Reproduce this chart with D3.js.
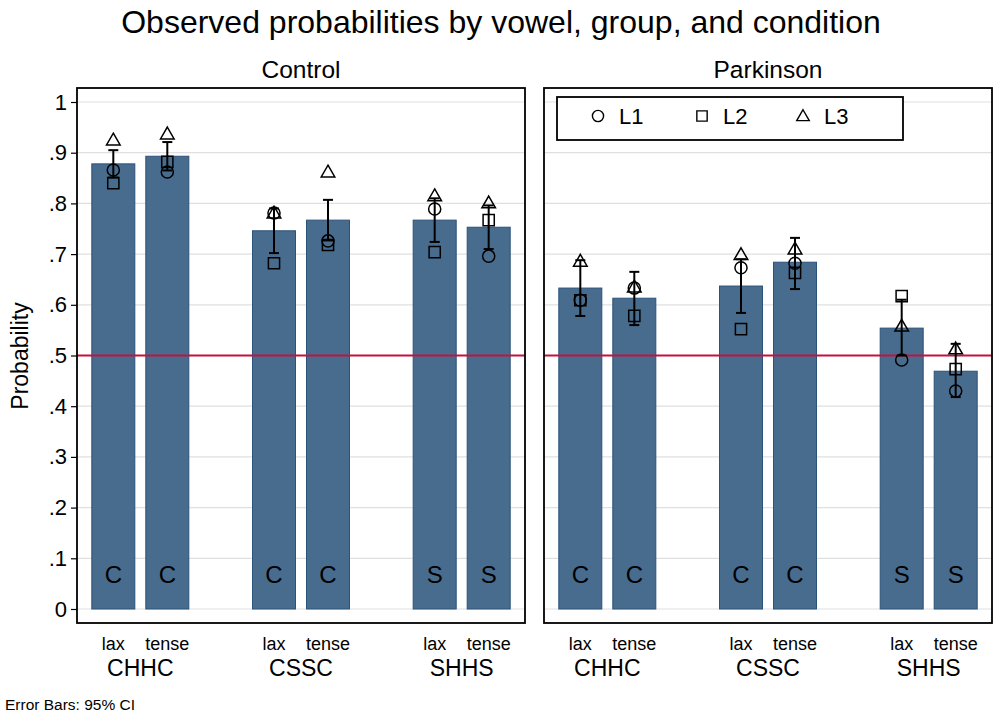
<!DOCTYPE html>
<html><head><meta charset="utf-8">
<script src="https://cdn.jsdelivr.net/npm/d3@7"></script>
<style>body{margin:0;background:#fff;} svg{display:block;font-family:"Liberation Sans",Arial,sans-serif;}</style>
</head><body>
<script>
const panels = ["Control", "Parkinson"];
const groups = ["CHHC", "CSSC", "SHHS"];
const conditions = ["lax", "tense"];
const groupLetters = ["C", "C", "S"];
const yTicks = [0, 0.1, 0.2, 0.3, 0.4, 0.5, 0.6, 0.7, 0.8, 0.9, 1];
const refLine = 0.5;
// order: CHHC lax, CHHC tense, CSSC lax, CSSC tense, SHHS lax, SHHS tense
const controlMean  = [0.878, 0.893, 0.746, 0.767, 0.767, 0.753];
const controlLower = [0.851, 0.865, 0.702, 0.727, 0.724, 0.710];
const controlUpper = [0.905, 0.921, 0.790, 0.807, 0.810, 0.796];
const controlL1    = [0.866, 0.862, 0.781, 0.726, 0.789, 0.696];
const controlL2    = [0.840, 0.882, 0.682, 0.718, 0.704, 0.767];
const controlL3    = [0.923, 0.935, 0.779, 0.860, 0.813, 0.799];
const parkMean  = [0.633, 0.613, 0.637, 0.684, 0.554, 0.469];
const parkLower = [0.578, 0.560, 0.584, 0.631, 0.500, 0.418];
const parkUpper = [0.688, 0.665, 0.690, 0.732, 0.610, 0.523];
const parkL1    = [0.609, 0.633, 0.673, 0.682, 0.491, 0.430];
const parkL2    = [0.609, 0.578, 0.552, 0.663, 0.617, 0.473];
const parkL3    = [0.684, 0.633, 0.697, 0.708, 0.556, 0.511];
const listeners = ["L1", "L2", "L3"];

const panelData = {
  Control:   {mean: controlMean, lower: controlLower, upper: controlUpper, L: [controlL1, controlL2, controlL3]},
  Parkinson: {mean: parkMean, lower: parkLower, upper: parkUpper, L: [parkL1, parkL2, parkL3]}
};

const W = 995, H = 715;
const svg = d3.select("body").append("svg").attr("width", W).attr("height", H);

const barFill = "#486c8e", barStroke = "#2b5279";
const panelX = {Control: 77, Parkinson: 544};
const panelW = 448, panelTop = 88, panelBottom = 623;

const y = d3.scaleLinear().domain([0, 1]).range([609, 102]);
const xg = d3.scalePoint().domain(groups).range([0, panelW]).padding(0.394);
const xc = d3.scaleBand().domain(conditions).range([-48.5, 48.5]).paddingInner(0.2037).paddingOuter(0);

const fmt = d => d === 0 ? "0" : d === 1 ? "1" : d3.format(".1f")(d).replace(/^0/, "");

const symbols = [d3.symbolCircle, d3.symbolSquare, d3.symbolTriangle];
const symSizes = [115, 125, 80];

// Title
svg.append("text").attr("x", 501).attr("y", 33).attr("text-anchor", "middle")
  .attr("font-size", 32).attr("fill", "#000").text("Observed probabilities by vowel, group, and condition");

panels.forEach(p => {
  const g = svg.append("g").attr("transform", `translate(${panelX[p]},0)`);
  const d = panelData[p];
  g.append("text").attr("x", panelW / 2).attr("y", 78).attr("text-anchor", "middle")
    .attr("font-size", 24.5).text(p);
  // gridlines
  g.selectAll("line.grid").data(yTicks).enter().append("line")
    .attr("x1", 0).attr("x2", panelW).attr("y1", t => y(t)).attr("y2", t => y(t))
    .attr("stroke", "#e0e0e0").attr("stroke-width", 1.2);
  const items = [];
  groups.forEach((gr, gi) => conditions.forEach((c, ci) => {
    const i = gi * 2 + ci;
    items.push({gr, c, i, x: xg(gr) + xc(c), cx: xg(gr) + xc(c) + xc.bandwidth() / 2, letter: groupLetters[gi]});
  }));
  // bars
  g.selectAll("rect.bar").data(items).enter().append("rect")
    .attr("x", it => it.x).attr("width", xc.bandwidth())
    .attr("y", it => y(d.mean[it.i])).attr("height", it => y(0) - y(d.mean[it.i]))
    .attr("fill", barFill).attr("stroke", barStroke).attr("stroke-width", 1);
  // reference line
  g.append("line").attr("x1", 0).attr("x2", panelW).attr("y1", y(refLine)).attr("y2", y(refLine))
    .attr("stroke", "#c4123f").attr("stroke-width", 2);
  // letters
  g.selectAll("text.letter").data(items).enter().append("text")
    .attr("x", it => it.cx).attr("y", 583).attr("text-anchor", "middle")
    .attr("font-size", 24).text(it => it.letter);
  // error bars
  const eb = g.selectAll("g.eb").data(items).enter().append("g")
    .attr("stroke", "#000").attr("stroke-width", 2);
  eb.append("line").attr("x1", it => it.cx).attr("x2", it => it.cx)
    .attr("y1", it => y(d.lower[it.i])).attr("y2", it => y(d.upper[it.i]));
  eb.append("line").attr("x1", it => it.cx - 5).attr("x2", it => it.cx + 5)
    .attr("y1", it => y(d.lower[it.i])).attr("y2", it => y(d.lower[it.i]));
  eb.append("line").attr("x1", it => it.cx - 5).attr("x2", it => it.cx + 5)
    .attr("y1", it => y(d.upper[it.i])).attr("y2", it => y(d.upper[it.i]));
  // markers
  listeners.forEach((l, li) => {
    g.selectAll("path.m" + li).data(items).enter().append("path")
      .attr("d", d3.symbol().type(symbols[li]).size(symSizes[li]))
      .attr("transform", it => `translate(${it.cx},${y(d.L[li][it.i])})`)
      .attr("fill", "none").attr("stroke", "#000").attr("stroke-width", 1.5);
  });
  // frame
  g.append("rect").attr("x", 0).attr("y", panelTop).attr("width", panelW).attr("height", panelBottom - panelTop)
    .attr("fill", "none").attr("stroke", "#000").attr("stroke-width", 1.8);
  // x labels
  g.selectAll("text.cond").data(items).enter().append("text")
    .attr("x", it => it.cx).attr("y", 650).attr("text-anchor", "middle")
    .attr("font-size", 18).text(it => it.c);
  g.selectAll("text.grp").data(groups).enter().append("text")
    .attr("x", gr => xg(gr)).attr("y", 676).attr("text-anchor", "middle")
    .attr("font-size", 23).text(gr => gr);
});

// Y axis
const yAxis = d3.axisLeft(y).tickValues(yTicks).tickFormat(fmt).tickSize(6).tickPadding(4);
const ya = svg.append("g").attr("transform", `translate(${panelX.Control},0)`).call(yAxis);
ya.select(".domain").remove();
ya.selectAll("text").attr("font-size", 22).attr("fill", "#000").attr("font-family", "Liberation Sans, Arial, sans-serif");
ya.selectAll("line").attr("stroke", "#000").attr("stroke-width", 1.2);

svg.append("text").attr("transform", "translate(28,356) rotate(-90)").attr("text-anchor", "middle")
  .attr("font-size", 23).text("Probability");

// Legend
const lg = svg.append("g");
lg.append("rect").attr("x", 557).attr("y", 97).attr("width", 346).attr("height", 43)
  .attr("fill", "#fff").attr("stroke", "#000").attr("stroke-width", 1.8);
const legX = [598, 702, 803];
listeners.forEach((l, li) => {
  lg.append("path").attr("d", d3.symbol().type(symbols[li]).size(symSizes[li] * 0.85))
    .attr("transform", `translate(${legX[li]},${li === 2 ? 117 : 116})`)
    .attr("fill", "none").attr("stroke", "#000").attr("stroke-width", 1.4);
  lg.append("text").attr("x", legX[li] + 21).attr("y", 124).attr("font-size", 22).text(l);
});

svg.append("text").attr("x", 5).attr("y", 710).attr("font-size", 15.5).text("Error Bars: 95% CI");
</script>
</body></html>
